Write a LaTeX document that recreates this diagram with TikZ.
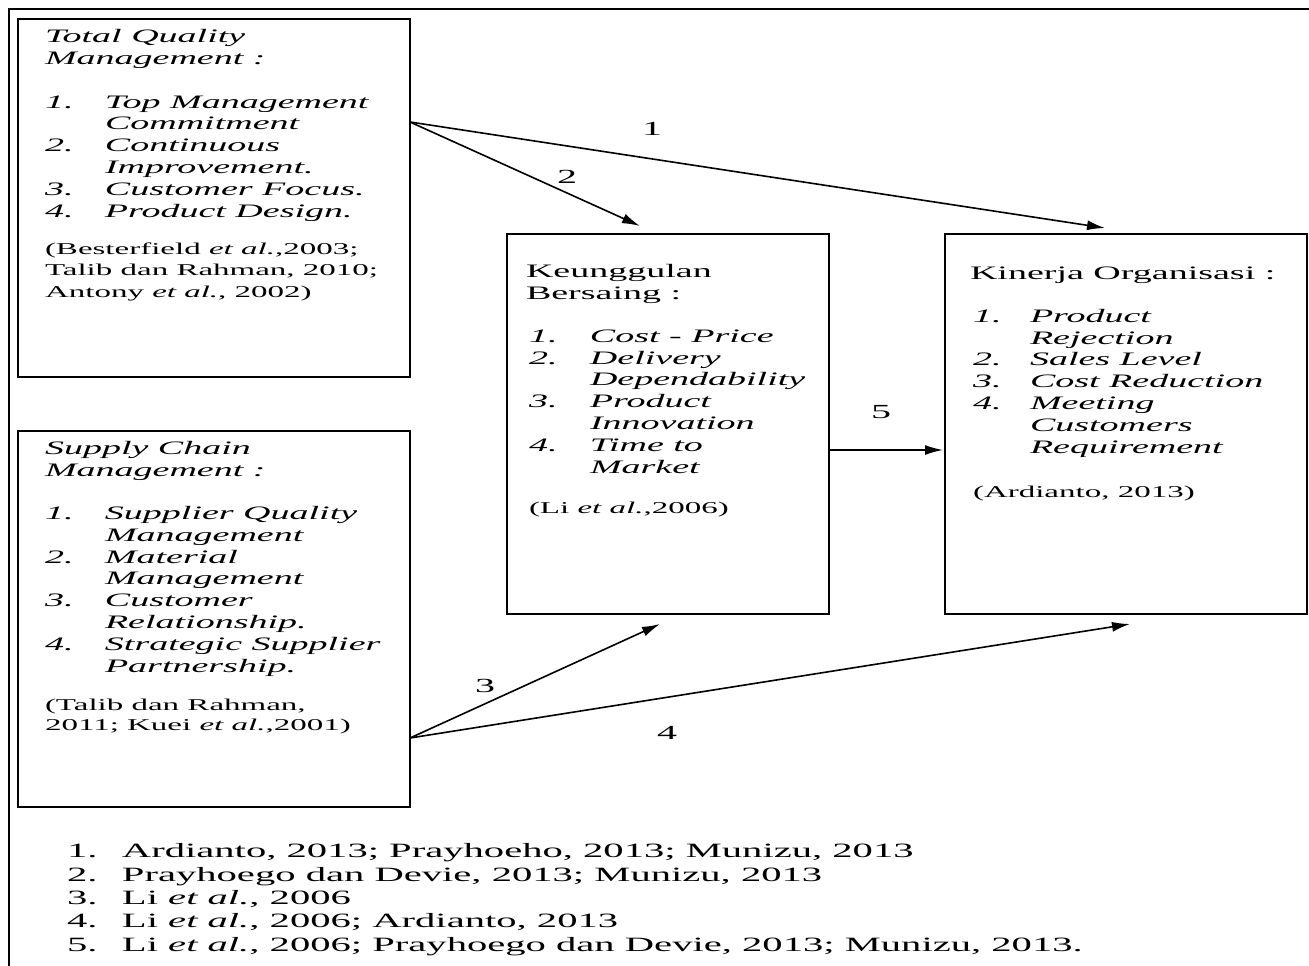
\documentclass[tikz,border=0pt]{standalone}
\usepackage{fontspec}
\setmainfont{Liberation Serif}[FakeStretch=2]
\usepackage{tikz}
\usetikzlibrary{arrows.meta}

\begin{document}
\begin{tikzpicture}[
		x=1pt, y=-1pt,
		every node/.style={inner sep=0pt, outer sep=0pt},
		>={Latex[length=18pt, width=10pt]}
	]
	\tikzset{
		kotak/.style={draw, line width=2.6pt, anchor=north west},
		judul/.style={anchor=base west, align=left, font=\fontsize{19}{21.5}\selectfont},
		daftar/.style={judul, font=\fontsize{19}{21.8}\selectfont\itshape},
		sumber/.style={anchor=base west, align=left, font=\fontsize{16.5}{21.5}\selectfont},
		panah/.style={->, line width=1.6pt},
		angka/.style={font=\fontsize{20}{24}\selectfont}
	}
	\useasboundingbox (0,0) rectangle (1309,966);
	\draw[line width=2pt] (9,966) -- (9,9) -- (1309,9);

	\node[kotak, minimum width=392pt, minimum height=358pt] (tqm) at (18,19) {};
	\node[kotak, minimum width=392pt, minimum height=376pt] (scm) at (18,431) {};
	\node[kotak, minimum width=322pt, minimum height=380pt] (kb) at (507,234) {};
	\node[kotak, minimum width=362pt, minimum height=380pt] (ko) at (945,234) {};

	\node[daftar] (tqm-isi) at (45,217) {Total Quality\\Management :\\[22pt]
		\makebox[60pt][l]{1.}Top Management\\
		\hspace*{60pt}Commitment\\
		\makebox[60pt][l]{2.}Continuous\\
		\hspace*{60pt}Improvement.\\
		\makebox[60pt][l]{3.}Customer Focus.\\
		\makebox[60pt][l]{4.}Product Design.};
	\node[sumber] (tqm-sumber) at (45,297) {(Besterfield \textit{et al.},2003;\\
		Talib dan Rahman, 2010;\\
		Antony \textit{et al.}, 2002)};

	\node[daftar] (scm-isi) at (45,672) {Supply Chain\\Management :\\[21pt]
		\makebox[60pt][l]{1.}Supplier Quality\\
		\hspace*{60pt}Management\\
		\makebox[60pt][l]{2.}Material\\
		\hspace*{60pt}Management\\
		\makebox[60pt][l]{3.}Customer\\
		\hspace*{60pt}Relationship.\\
		\makebox[60pt][l]{4.}Strategic Supplier\\
		\hspace*{60pt}Partnership.};
	\node[sumber, font=\fontsize{16.5}{20}\selectfont] (scm-sumber) at (45,730) {(Talib dan Rahman,\\
		2011; Kuei \textit{et al.},2001)};

	\node[judul] (kb-judul) at (526,299) {Keunggulan\\Bersaing :};
	\node[daftar] (kb-isi) at (529,473) {\makebox[61pt][l]{1.}Cost - Price\\
		\makebox[61pt][l]{2.}Delivery\\
		\hspace*{61pt}Dependability\\
		\makebox[61pt][l]{3.}Product\\
		\hspace*{61pt}Innovation\\
		\makebox[61pt][l]{4.}Time to\\
		\hspace*{61pt}Market};
	\node[sumber] (kb-sumber) at (529,513) {(Li \textit{et al.},2006)};

	\node[judul] (ko-judul) at (970,279) {Kinerja Organisasi :};
	\node[daftar] (ko-isi) at (973,453) {\makebox[57pt][l]{1.}Product\\
		\hspace*{57pt}Rejection\\
		\makebox[57pt][l]{2.}Sales Level\\
		\makebox[57pt][l]{3.}Cost Reduction\\
		\makebox[57pt][l]{4.}Meeting\\
		\hspace*{57pt}Customers\\
		\hspace*{57pt}Requirement};
	\node[sumber] (ko-sumber) at (973,497) {(Ardianto, 2013)};

	\coordinate (tqm-out) at ([shift={(0,103)}]tqm.north east);
	\coordinate (scm-out) at ([shift={(0,307)}]scm.north east);
	\coordinate (kb-atas) at ([shift={(133,-8)}]kb.north west);
	\coordinate (ko-atas) at ([shift={(160,-6)}]ko.north west);
	\coordinate (kb-bawah) at ([shift={(153,10)}]kb.south west);
	\coordinate (ko-bawah) at ([shift={(185,10)}]ko.south west);

	\draw[panah] (tqm-out) -- (ko-atas);
	\draw[panah] (tqm-out) -- (kb-atas);
	\draw[panah] (scm-out) -- (kb-bawah);
	\draw[panah] (scm-out) -- (ko-bawah);
	\draw[panah] ([shift={(0,26)}]kb.east) -- ([shift={(-2,26)}]ko.west);

	\node[angka] (n1) at (652,129) {1};
	\node[angka] (n2) at (567,177) {2};
	\node[angka] (n3) at (485,686) {3};
	\node[angka] (n4) at (667,733) {4};
	\node[angka] (n5) at (881,412) {5};

	\node[sumber, font=\fontsize{20.3}{23.3}\selectfont] (catatan) at (67,951) {\makebox[55pt][l]{1.}Ardianto, 2013; Prayhoeho, 2013; Munizu, 2013\\
		\makebox[55pt][l]{2.}Prayhoego dan Devie, 2013; Munizu, 2013\\
		\makebox[55pt][l]{3.}Li \textit{et al.}, 2006\\
		\makebox[55pt][l]{4.}Li \textit{et al.}, 2006; Ardianto, 2013\\
		\makebox[55pt][l]{5.}Li \textit{et al.}, 2006; Prayhoego dan Devie, 2013; Munizu, 2013.};
\end{tikzpicture}
\end{document}
